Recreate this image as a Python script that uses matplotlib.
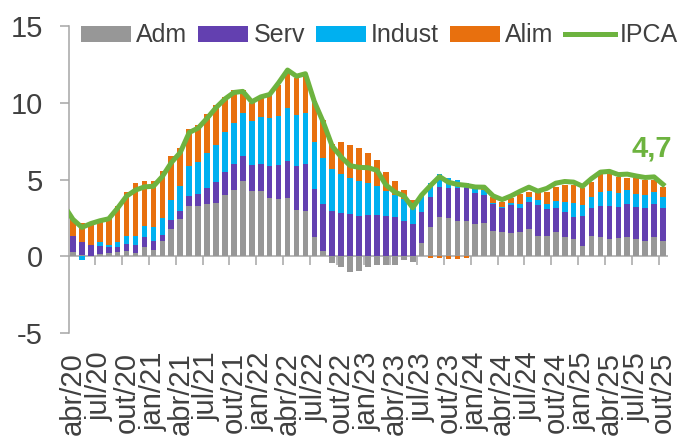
import numpy as np
import matplotlib.pyplot as plt

plt.rcParams['font.family'] = ['Liberation Sans', 'DejaVu Sans']
plt.rcParams['axes.unicode_minus'] = False

# contribuições (p.p.) para o IPCA acumulado em 12 meses, abr/20 a out/25
adm = [0.26, 0.05, 0.02, 0.17, 0.20, 0.26, 0.35, 0.20, 0.60, 0.43, 0.97, 1.77, 2.43,
       3.30, 3.30, 3.40, 3.46, 4.00, 4.30, 4.87, 4.28, 4.26, 3.80, 3.73, 3.80, 3.03,
       2.97, 1.27, 0.32, -0.43, -0.71, -1.04, -0.97, -0.69, -0.54, -0.60, -0.54, -0.26,
       -0.39, 0.86, 1.90, 2.55, 2.48, 2.27, 2.27, 2.11, 2.16, 1.62, 1.55, 1.51, 1.60,
       1.77, 1.34, 1.34, 1.55, 1.25, 1.14, 0.69, 1.29, 1.25, 1.14, 1.19, 1.27, 1.14,
       1.01, 1.25, 1.01]
serv = [1.08, 0.85, 0.71, 0.52, 0.40, 0.34, 0.47, 0.53, 0.65, 0.54, 0.43, 0.56, 0.50,
        0.62, 0.76, 1.06, 1.36, 1.52, 1.74, 1.68, 1.66, 1.78, 2.10, 2.20, 2.40, 2.82,
        3.06, 3.09, 3.09, 2.96, 2.80, 2.74, 2.63, 2.70, 2.70, 2.63, 2.55, 2.27, 2.11,
        2.00, 1.98, 1.94, 1.94, 2.15, 2.15, 1.99, 1.83, 1.77, 1.58, 1.83, 1.57, 1.75,
        2.00, 1.72, 1.58, 1.66, 1.41, 1.94, 1.84, 2.05, 2.14, 2.00, 2.14, 2.05, 2.14,
        2.16, 2.16]
indust = [0.00, -0.25, 0.02, 0.21, 0.15, 0.30, 0.48, 0.61, 0.75, 0.93, 1.10, 1.34, 1.64,
          1.98, 2.11, 2.24, 2.41, 2.55, 2.61, 2.75, 2.84, 3.02, 3.10, 3.21, 3.44, 3.32,
          3.27, 3.08, 3.01, 2.71, 2.59, 2.37, 2.29, 2.05, 1.87, 1.64, 1.44, 1.44, 1.39,
          1.10, 0.91, 0.90, 0.71, 0.54, 0.33, 0.30, 0.35, 0.11, 0.11, 0.11, 0.24, 0.32,
          0.30, 0.35, 0.47, 0.65, 0.95, 0.71, 0.71, 0.91, 0.97, 0.95, 0.90, 0.87, 0.82,
          0.78, 0.71]
alim = [1.06, 1.25, 1.35, 1.40, 1.65, 2.35, 2.90, 3.41, 2.90, 3.02, 3.07, 2.83, 2.50,
        2.42, 2.41, 2.55, 2.65, 2.33, 2.18, 1.53, 1.20, 1.34, 1.57, 2.01, 2.28, 2.41,
        2.58, 2.66, 2.43, 1.62, 2.05, 2.12, 2.16, 1.98, 1.73, 1.21, 0.93, 0.60, 0.17,
        0.00, -0.11, -0.11, -0.20, -0.20, -0.11, 0.10, 0.10, 0.38, 0.32, 0.33, 0.65, 0.37,
        0.60, 0.80, 0.89, 1.08, 1.14, 1.08, 1.01, 1.14, 1.10, 1.04, 0.82, 1.01, 1.03,
        0.77, 0.65]
ipca_mar20 = 3.30
ipca = [2.40, 1.88, 2.13, 2.31, 2.44, 3.14, 3.92, 4.31, 4.52,
        4.56, 5.20, 6.10, 6.76, 8.06, 8.35, 8.99, 9.68, 10.25, 10.67, 10.74, 10.06,
        10.38, 10.54, 11.30, 12.13, 11.73, 11.89, 10.07, 8.73, 7.17, 6.47, 5.90, 5.79,
        5.77, 5.60, 4.65, 4.18, 3.94, 3.16, 3.99, 4.61, 5.19, 4.82, 4.68, 4.62,
        4.51, 4.50, 3.93, 3.69, 3.93, 4.23, 4.50, 4.24, 4.42, 4.76, 4.87, 4.83,
        4.56, 5.06, 5.48, 5.53, 5.32, 5.35, 5.23, 5.13, 5.17, 4.68]

month_abbr = ['jan', 'fev', 'mar', 'abr', 'mai', 'jun', 'jul', 'ago', 'set', 'out', 'nov', 'dez']
months = [f'{month_abbr[(3 + i) % 12]}/{20 + (3 + i) // 12}' for i in range(len(ipca))]

series = [('Adm', adm, '#979797'), ('Serv', serv, '#6340B0'),
          ('Indust', indust, '#00B0F0'), ('Alim', alim, '#E8700E')]
axis_gray = '#A6A6A6'
text_gray = '#404040'
green = '#6DB33F'

fig = plt.figure(figsize=(6.82, 4.36), dpi=100)
ax = fig.add_axes([68.5 / 682, 1 - 333 / 436, 599 / 682, 307 / 436])

x = np.arange(len(ipca))
pos_base = np.zeros(len(x))
neg_base = np.zeros(len(x))
handles = []
for name, vals, color in series:
    v = np.array(vals)
    bottom = np.where(v >= 0, pos_base, neg_base)
    h = ax.bar(x, v, bottom=bottom, width=0.63, color=color, label=name, zorder=2)
    handles.append(h)
    pos_base += np.clip(v, 0, None)
    neg_base += np.clip(v, None, 0)

# linha do IPCA (inclui mar/20 fora da janela visível)
line, = ax.plot(np.r_[-1, x], np.r_[ipca_mar20, ipca], color=green, lw=3.6,
                label='IPCA', zorder=3, solid_joinstyle='round')
handles.append(line)
ax.annotate(f'{ipca[-1]:.1f}'.replace('.', ','), xy=(x[-1], ipca[-1]),
            xytext=(-8, 26), textcoords='offset points', ha='center', va='center',
            fontsize=21, fontweight='bold', color=green)

ax.set_xlim(-0.5, len(x) - 0.5)
ax.set_ylim(-5, 15)
ax.set_yticks([-5, 0, 5, 10, 15])
ax.set_xticks(x[::3])
ax.set_xticklabels(months[::3], rotation=90)
ax.tick_params(axis='x', length=0, pad=13.5, labelsize=21, labelcolor=text_gray)
ax.tick_params(axis='y', length=6.5, width=1.1, color=axis_gray, pad=12,
               labelsize=21, labelcolor=text_gray)

for side in ['top', 'right', 'bottom']:
    ax.spines[side].set_visible(False)
ax.spines['left'].set_color(axis_gray)
ax.spines['left'].set_linewidth(1.1)

# eixo das categorias em zero com marcas a cada trimestre
ax.axhline(0, color=axis_gray, lw=1.1, zorder=1)
ax.vlines(np.arange(-0.5, len(x) - 1, 3)[1:], -0.58, 0, color=axis_gray, lw=1.1, zorder=1)

leg = ax.legend(handles=handles, loc='center left',
                bbox_to_anchor=(81 / 682, 1 - 35.5 / 436),
                bbox_transform=fig.transFigure, ncol=5, frameon=False,
                fontsize=18, handlelength=2.0, handleheight=0.6, handletextpad=0.2,
                columnspacing=0.45, borderpad=0, borderaxespad=0)
for t in leg.get_texts():
    t.set_color(text_gray)

fig.savefig('out.png', dpi=100)
